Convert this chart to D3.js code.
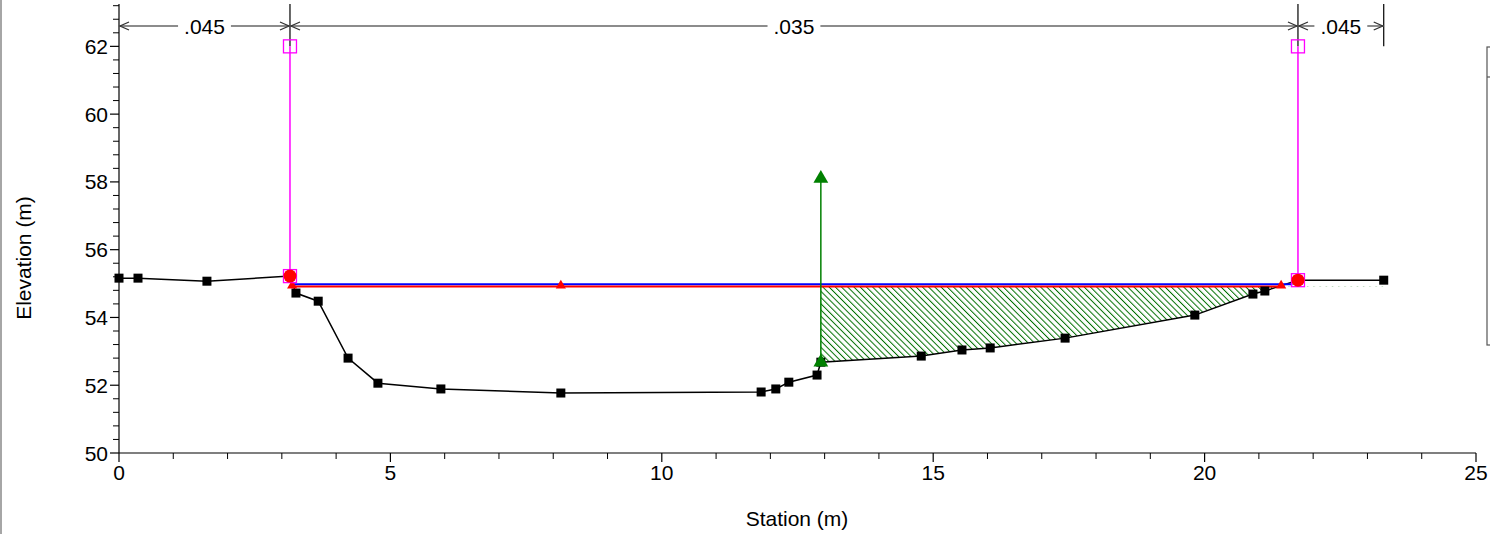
<!DOCTYPE html>
<html>
<head>
<meta charset="utf-8">
<script src="https://cdn.jsdelivr.net/npm/d3@7"></script>
<style>
  html, body { margin: 0; padding: 0; background: #fff; }
  svg { display: block; font-family: "Liberation Sans", Arial, sans-serif; }
</style>
</head>
<body>
<svg id="chart" width="1490" height="534"></svg>
<script>
// ---- data ----
const stations   = [0, 0.35, 1.62, 3.15, 3.26, 3.67, 4.22, 4.77, 5.93, 8.14, 11.83, 12.10, 12.34, 12.86, 12.93, 14.78, 15.53, 16.05, 17.43, 19.82, 20.89, 21.11, 21.72, 23.30];
const elevations = [55.16, 55.16, 55.07, 55.22, 54.72, 54.48, 52.80, 52.06, 51.89, 51.77, 51.80, 51.89, 52.09, 52.30, 52.68, 52.86, 53.04, 53.10, 53.39, 54.07, 54.69, 54.78, 55.10, 55.10];
const bankStations = [3.15, 21.72];
const bankElevations = [55.22, 55.10];
const bankTop = 62;
const nValues = [".045", ".035", ".045"];
const nBreaks = [0, 3.15, 21.72, 23.30];
const wsElevation = 54.98;       // blue
const critElevation = 54.91;     // red
const critStations = [3.19, 8.14, 21.41];
const wsExtent = [3.2, 21.62];
const critExtent = [3.19, 21.41];
const ineffStation = 12.93;
const ineffBottom = 52.68;
const ineffTop = 58.1;
const xTicks = [0, 5, 10, 15, 20, 25];
const yTicks = [50, 52, 54, 56, 58, 60, 62];

// ---- scales ----
const x = d3.scaleLinear().domain([0, 25]).range([119, 1476]);
const y = d3.scaleLinear().domain([50, 63.25]).range([453, 4]);

const svg = d3.select("#chart");
const FS = 21;

// frame line at left & legend box edge
svg.append("line").attr("x1", 1).attr("x2", 1).attr("y1", 0).attr("y2", 534)
  .attr("stroke", "#888").attr("stroke-width", 1.5);
svg.append("rect").attr("x", 1487).attr("y", 47).attr("width", 20).attr("height", 298)
  .attr("fill", "none").attr("stroke", "#555").attr("stroke-width", 1.2);
svg.append("line").attr("x1", 1487).attr("x2", 1490).attr("y1", 77).attr("y2", 77)
  .attr("stroke", "#555").attr("stroke-width", 1.2);

// hatch pattern
const defs = svg.append("defs");
const pat = defs.append("pattern").attr("id", "hatch").attr("patternUnits", "userSpaceOnUse")
  .attr("width", 4.4).attr("height", 4.4).attr("patternTransform", "rotate(-45)");
pat.append("line").attr("x1", 0).attr("y1", 0).attr("x2", 0).attr("y2", 4.4)
  .attr("stroke", "#006f00").attr("stroke-width", 2);
defs.append("clipPath").attr("id", "ineffClip").append("rect")
  .attr("x", x(ineffStation)).attr("y", y(critElevation))
  .attr("width", x(25) - x(ineffStation)).attr("height", y(50) - y(critElevation));

const pts = stations.map((s, i) => ({ s, e: elevations[i] }));

// ineffective hatch area
const area = d3.area().x(d => x(d.s)).y0(() => y(critElevation)).y1(d => y(d.e));
svg.append("path").datum(pts.filter(d => d.s >= ineffStation))
  .attr("d", area).attr("fill", "url(#hatch)").attr("clip-path", "url(#ineffClip)");

// axes
const yMinor = d3.range(50, 63.2, 0.4).filter(v => Math.abs(v / 2 - Math.round(v / 2)) > 0.01);
const xMinor = d3.range(0, 25.01, 1).filter(v => v % 5 !== 0);

const gy = svg.append("g").attr("transform", `translate(${x(0)},0)`);
gy.append("line").attr("x1", 0).attr("x2", 0).attr("y1", y(63.25)).attr("y2", y(50)).attr("stroke", "#000").attr("stroke-width", 1.2);
gy.selectAll(".ymaj").data(yTicks).join("line").attr("x1", -9).attr("x2", 0)
  .attr("y1", d => y(d)).attr("y2", d => y(d)).attr("stroke", "#000").attr("stroke-width", 1.2);
gy.selectAll(".ymin").data(yMinor).join("line").attr("x1", -6).attr("x2", 0)
  .attr("y1", d => y(d)).attr("y2", d => y(d)).attr("stroke", "#000").attr("stroke-width", 1);
gy.selectAll(".ylab").data(yTicks).join("text").attr("x", -11).attr("y", d => y(d))
  .attr("dy", "0.36em").attr("text-anchor", "end").attr("font-size", FS).text(d => d);

const gx = svg.append("g").attr("transform", `translate(0,${y(50)})`);
gx.append("line").attr("x1", x(0)).attr("x2", x(25)).attr("y1", 0).attr("y2", 0).attr("stroke", "#000").attr("stroke-width", 1.2);
gx.selectAll(".xmaj").data(xTicks).join("line").attr("y1", 0).attr("y2", 9)
  .attr("x1", d => x(d)).attr("x2", d => x(d)).attr("stroke", "#000").attr("stroke-width", 1.2);
gx.selectAll(".xmin").data(xMinor).join("line").attr("y1", 0).attr("y2", 6)
  .attr("x1", d => x(d)).attr("x2", d => x(d)).attr("stroke", "#000").attr("stroke-width", 1);
gx.selectAll(".xlab").data(xTicks).join("text").attr("x", d => x(d)).attr("y", 27)
  .attr("text-anchor", "middle").attr("font-size", FS).text(d => d);

svg.append("text").attr("x", 797).attr("y", 526).attr("text-anchor", "middle")
  .attr("font-size", FS).text("Station (m)");
svg.append("text").attr("transform", "translate(31,258) rotate(-90)").attr("text-anchor", "middle")
  .attr("font-size", FS).text("Elevation (m)");

// top Manning's n dimension lines
const dimY = 26;
nBreaks.forEach((b, i) => {
  if (i === 0) return;
  svg.append("line").attr("x1", x(b)).attr("x2", x(b)).attr("y1", y(63.25)).attr("y2", y(bankTop))
    .attr("stroke", "#000").attr("stroke-width", 1.2);
});
nValues.forEach((n, i) => {
  const x0 = x(nBreaks[i]), x1 = x(nBreaks[i + 1]);
  const g = svg.append("g");
  const t = g.append("text").attr("x", (x0 + x1) / 2).attr("y", dimY).attr("dy", "0.36em")
    .attr("text-anchor", "middle").attr("font-size", FS).text(n);
  const w = t.node().getComputedTextLength();
  const cx = (x0 + x1) / 2;
  g.insert("line", "text").attr("x1", x0).attr("x2", cx - w / 2 - 6).attr("y1", dimY).attr("y2", dimY)
    .attr("stroke", "#666").attr("stroke-width", 1.5);
  g.insert("line", "text").attr("x1", cx + w / 2 + 6).attr("x2", x1).attr("y1", dimY).attr("y2", dimY)
    .attr("stroke", "#666").attr("stroke-width", 1.5);
  g.append("path").attr("d", `M${x0 + 10},${dimY - 4} L${x0 + 1},${dimY} L${x0 + 10},${dimY + 4}`)
    .attr("fill", "none").attr("stroke", "#333").attr("stroke-width", 1.3);
  g.append("path").attr("d", `M${x1 - 10},${dimY - 4} L${x1 - 1},${dimY} L${x1 - 10},${dimY + 4}`)
    .attr("fill", "none").attr("stroke", "#333").attr("stroke-width", 1.3);
});

// bank station lines (magenta)
bankStations.forEach((b, i) => {
  svg.append("line").attr("x1", x(b)).attr("x2", x(b)).attr("y1", y(bankTop)).attr("y2", y(bankElevations[i]))
    .attr("stroke", "#ff00ff").attr("stroke-width", 1.5);
});

// ground profile
svg.append("path").datum(pts).attr("d", d3.line().x(d => x(d.s)).y(d => y(d.e)))
  .attr("fill", "none").attr("stroke", "#000").attr("stroke-width", 1.5);

// water surfaces
svg.append("line").attr("x1", x(wsExtent[0])).attr("x2", x(wsExtent[1]))
  .attr("y1", y(wsElevation)).attr("y2", y(wsElevation)).attr("stroke", "#0000ff").attr("stroke-width", 2);
svg.append("line").attr("x1", x(critExtent[0])).attr("x2", x(critExtent[1]))
  .attr("y1", y(critElevation)).attr("y2", y(critElevation)).attr("stroke", "#ff0000").attr("stroke-width", 2);

// ground markers
svg.selectAll(".gpt").data(pts).join("rect")
  .attr("x", d => x(d.s) - 4.5).attr("y", d => y(d.e) - 4.5).attr("width", 9).attr("height", 9).attr("fill", "#000");

// crit triangles
const tri = d3.symbol().type(d3.symbolTriangle);
svg.selectAll(".ctri").data(critStations).join("path")
  .attr("transform", d => `translate(${x(d)},${y(critElevation) - 1})`)
  .attr("d", tri.size(45)()).attr("fill", "#ff0000");

// ineffective block marker (green)
svg.append("line").attr("x1", x(ineffStation)).attr("x2", x(ineffStation))
  .attr("y1", y(ineffBottom)).attr("y2", y(ineffTop)).attr("stroke", "#008000").attr("stroke-width", 1.5);
[ineffBottom, ineffTop].forEach(e => {
  svg.append("path").attr("transform", `translate(${x(ineffStation)},${y(e)})`)
    .attr("d", d3.symbol().type(d3.symbolTriangle).size(95)()).attr("fill", "#008000");
});

// bank markers: red circles and magenta squares
bankStations.forEach((b, i) => {
  [bankTop, bankElevations[i]].forEach(e => {
    svg.append("rect").attr("x", x(b) - 6.5).attr("y", y(e) - 6.5).attr("width", 13).attr("height", 13)
      .attr("fill", "none").attr("stroke", "#ff00ff").attr("stroke-width", 1.3);
  });
  svg.append("circle").attr("cx", x(b)).attr("cy", y(bankElevations[i])).attr("r", 6.5).attr("fill", "#ff0000");
});
</script>
</body>
</html>
